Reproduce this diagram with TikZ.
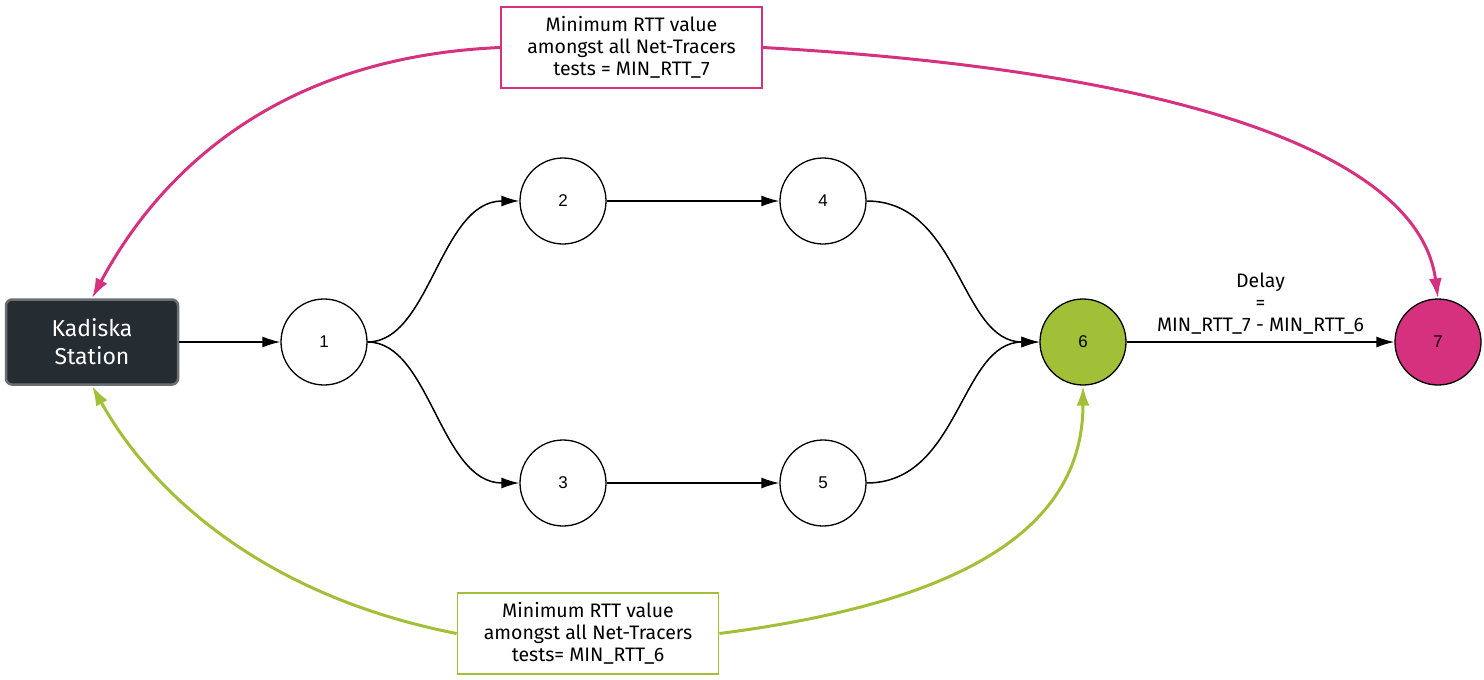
\documentclass[tikz,border=0pt]{standalone}
\usepackage{fontspec}
\setmainfont{Fira Sans}
\newfontfamily\numfont{Liberation Sans}
\usetikzlibrary{arrows.meta}
\definecolor{pinkc}{HTML}{D6317E}
\definecolor{greenc}{HTML}{A2C037}
\definecolor{darkbox}{HTML}{252D33}
\definecolor{boxborder}{HTML}{6A6E71}
\tikzset{
  circ/.style={circle, draw=black, line width=1.3pt, minimum size=86pt, inner sep=0pt, font=\numfont\fontsize{17}{18}\selectfont},
  blk/.style={line width=1.5pt, -{Latex[length=18pt,width=11pt]}},
  pinkline/.style={draw=pinkc, line width=3pt, -{Latex[length=20pt,width=13pt]}},
  greenline/.style={draw=greenc, line width=3pt, -{Latex[length=20pt,width=13pt]}},
  labelbox/.style={draw, line width=1.8pt, fill=white, align=center, minimum width=261pt, minimum height=81pt, font=\fontsize{19.5}{22}\selectfont, inner sep=2pt},
}
\begin{document}
\begin{tikzpicture}[x=1pt,y=-1pt]
\useasboundingbox (0,0) rectangle (1484,680);
\node[rounded corners=6pt, fill=darkbox, draw=boxborder, line width=2.5pt, minimum width=172pt, minimum height=85pt, text=white, align=center, font=\fontsize{23}{28}\selectfont] (ks) at (92,342) {Kadiska\\Station};
\node[circ] (n1) at (324,342) {1};
\node[circ] (n2) at (563,201) {2};
\node[circ] (n3) at (563,483) {3};
\node[circ] (n4) at (823,201) {4};
\node[circ] (n5) at (823,483) {5};
\node[circ, fill=greenc] (n6) at (1083,342) {6};
\node[circ, fill=pinkc] (n7) at (1438,342) {7};
\node[labelbox, draw=pinkc] (top) at (631.5,47.5) {Minimum RTT value\\amongst all Net-Tracers\\tests = MIN\_RTT\_7};
\node[labelbox, draw=greenc] (bot) at (588,633.5) {Minimum RTT value\\amongst all Net-Tracers\\tests= MIN\_RTT\_6};
\draw[blk] (ks.east) -- (n1.west);
\draw[blk] (n1.east) .. controls (430,342) and (440,201) .. (n2.west);
\draw[blk] (n1.east) .. controls (430,342) and (440,483) .. (n3.west);
\draw[blk] (n2.east) -- (n4.west);
\draw[blk] (n3.east) -- (n5.west);
\draw[blk] (n4.east) .. controls (960,201) and (960,342) .. (n6.west);
\draw[blk] (n5.east) .. controls (960,483) and (960,342) .. (n6.west);
\draw[blk] (n6.east) -- node[above=4pt, align=center, font=\fontsize{19.5}{22}\selectfont] (dl) {Delay\\=\\MIN\_RTT\_7 - MIN\_RTT\_6} (n7.west);
\draw[pinkline] (top.west) .. controls (260,58) and (150,190) .. (ks.north);
\draw[pinkline] (top.east) .. controls (1200,72) and (1420,160) .. (n7.north);
\draw[greenline] (bot.west) .. controls (260,595) and (150,490) .. (ks.south);
\draw[greenline] (bot.east) .. controls (980,600) and (1083,520) .. (n6.south);
\end{tikzpicture}
\end{document}
